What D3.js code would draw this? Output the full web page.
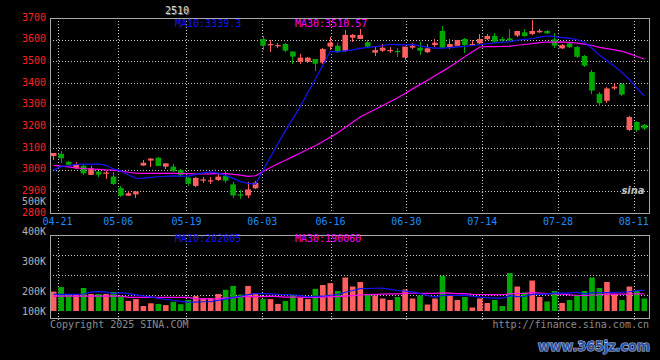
<!DOCTYPE html>
<html>
<head>
<meta charset="utf-8">
<script src="https://cdn.jsdelivr.net/npm/d3@7"></script>
<style>
body { margin: 0; background: #000; }
svg { display: block; font-family: "DejaVu Sans Mono", monospace; }
</style>
</head>
<body>
<svg id="chart" width="660" height="360"></svg>
<script>
// contract 2510, daily K-line 04-18 .. 08-13
var dates = ["04-18","04-21","04-22","04-23","04-24","04-25","04-28","04-29","04-30","05-06",
  "05-07","05-08","05-09","05-12","05-13","05-14","05-15","05-16","05-19","05-20",
  "05-21","05-22","05-23","05-26","05-27","05-28","05-29","05-30","06-03","06-04",
  "06-05","06-06","06-09","06-10","06-11","06-12","06-13","06-16","06-17","06-18",
  "06-19","06-20","06-23","06-24","06-25","06-26","06-27","06-30","07-01","07-02",
  "07-03","07-04","07-07","07-08","07-09","07-10","07-11","07-14","07-15","07-16",
  "07-17","07-18","07-21","07-22","07-23","07-24","07-25","07-28","07-29","07-30",
  "07-31","08-01","08-04","08-05","08-06","08-07","08-08","08-11","08-12","08-13"];

var opens = [3063,3073,3036,3006,3018,2976,2991,2981,2968,2915,
  2880,2886,3019,3042,3055,3014,3014,2999,2963,2925,
  2949,2945,2952,2971,2932,2886,2881,2914,3603,3574,
  3571,3580,3545,3498,3498,3511,3494,3568,3572,3548,
  3609,3603,3588,3540,3549,3548,3548,3517,3563,3563,
  3542,3575,3640,3565,3572,3603,3575,3583,3602,3617,
  3603,3606,3619,3634,3626,3634,3640,3601,3560,3583,
  3566,3525,3451,3350,3318,3375,3395,3183,3220,3207];
var highs = [3079,3086,3040,3034,3028,3017,2996,2992,2991,2925,
  2902,2903,3045,3055,3058,3033,3026,3001,2966,2964,
  2968,2965,2983,2995,2945,2906,2945,2946,3617,3599,
  3586,3583,3549,3534,3522,3513,3562,3614,3583,3645,
  3626,3648,3599,3568,3580,3568,3560,3568,3583,3591,
  3580,3602,3663,3602,3600,3606,3599,3626,3626,3629,
  3611,3649,3641,3649,3691,3649,3643,3629,3580,3586,
  3570,3529,3460,3360,3380,3398,3400,3248,3226,3212];
var lows = [3045,3029,3020,3003,2977,2974,2965,2957,2927,2874,
  2877,2870,3017,3014,3015,3003,2988,2968,2926,2920,
  2937,2934,2950,2937,2871,2865,2868,2909,3552,3545,
  3560,3545,3488,3488,3494,3457,3490,3552,3537,3545,
  3591,3603,3560,3525,3545,3537,3522,3506,3555,3529,
  3537,3565,3560,3555,3570,3537,3574,3580,3599,3586,
  3591,3594,3614,3611,3622,3629,3626,3560,3558,3560,
  3514,3474,3350,3296,3310,3368,3340,3178,3176,3185];
var closes = [3077,3052,3023,3023,2983,3006,2977,2987,2934,2880,
  2891,2899,3032,3051,3017,3029,2993,2976,2935,2962,
  2955,2951,2968,2949,2881,2880,2909,2940,3572,3580,
  3575,3549,3522,3517,3517,3489,3557,3586,3545,3622,
  3622,3622,3568,3552,3563,3552,3542,3568,3572,3549,
  3560,3586,3563,3580,3598,3575,3580,3603,3617,3591,
  3596,3596,3640,3617,3640,3641,3629,3572,3575,3565,
  3521,3480,3365,3307,3375,3383,3346,3243,3183,3190];
var volumes = [198000,213000,187000,187000,210000,190000,190000,190000,197000,181000,
  167000,173000,150000,159000,157000,153000,164000,156000,170000,183000,
  176000,176000,190000,204000,217000,188000,217000,193000,173000,173000,
  157000,167000,186000,177000,173000,207000,220000,226000,200000,245000,
  215000,230000,190000,185000,175000,170000,180000,205000,175000,185000,
  155000,175000,250000,185000,170000,180000,145000,175000,160000,170000,
  150000,260000,215000,195000,235000,180000,165000,200000,160000,170000,
  185000,200000,245000,210000,230000,190000,170000,215000,200000,175000];

// moving averages before enough history is on the chart
var ma10Head = [2998,3015,3018,3024,3026,3026,3026,3020,3003];
var ma30Head = [3020,3016,3013,3008,3005,3003,3001,2999,2998,2993,
  2988,2984,2983,2983,2983,2983,2983,2983,2982,2980,
  2980,2981,2982,2982,2978,2975,2969,2972,2992];
var vma10Head = [189000,189000,189000,189000,190000,197000,198000,196000,191000];
var vma30Head = [183000,183000,183000,183000,183000,183000,183000,183000,183000,183000,
  179000,179000,179000,179000,179000,179000,179000,179000,179000,
  174000,174000,174000,174000,177000,177000,181000,181000,181000,181000];

var priceTicks = [2800,2900,3000,3100,3200,3300,3400,3500,3600,3700];
var volTicks = [100000,200000,300000,400000,500000];
var dateTicks = ["04-21","05-06","05-19","06-03","06-16","06-30","07-14","07-28","08-11"];
var priceLegend = ["MA10:3339.3","MA30:3510.57"];
var volLegend = ["MA10:202005","MA30:190060"];

var W = 660, H = 360;
var left = 50, right = 649;
var mainTop = 18, mainBottom = 213;
var volTop = 235, volBottom = 318, volFloor = 311;
var upColor = "#ff5f5f", downColor = "#00a800";
var gridColor = "#c8c8c8";

var svg = d3.select("#chart");
svg.append("rect").attr("width", W).attr("height", H).attr("fill", "#000");

var idx = d3.range(dates.length);
var x = d3.scaleBand().domain(idx).range([left - 1, right]).padding(0.25);
var gx = d3.scalePoint().domain(idx).range([left, right]);
var y = d3.scaleLinear().domain([2800, 3700]).range([mainBottom, mainTop]);
var yVol = d3.scaleLinear().domain([200000, 500000]).range([291, 201]);

function cx(i) { return x(i) + x.bandwidth() / 2; }
function crisp(v) { return Math.round(v) + 0.5; }

function movingAvg(vals, n, head) {
  return vals.map(function(v, i) {
    if (i < head.length) return head[i];
    return d3.mean(vals.slice(i - n + 1, i + 1));
  });
}
var ma10 = movingAvg(closes, 10, ma10Head);
var ma30 = movingAvg(closes, 30, ma30Head);
var vma10 = movingAvg(volumes, 10, vma10Head);
var vma30 = movingAvg(volumes, 30, vma30Head);

var dateIndex = dateTicks.map(function(d) { return dates.indexOf(d); });

// ---- grids
var grid = svg.append("g")
  .attr("stroke", gridColor).attr("stroke-dasharray", "1,2")
  .attr("shape-rendering", "crispEdges");

grid.selectAll(".hp").data(priceTicks.slice(1, -1)).enter().append("line")
  .attr("x1", left).attr("x2", right)
  .attr("y1", function(d) { return crisp(y(d)); })
  .attr("y2", function(d) { return crisp(y(d)); });

grid.selectAll(".hv").data([1, 2, 3]).enter().append("line")
  .attr("x1", left).attr("x2", right)
  .attr("y1", function(k) { return crisp(volTop + k * 20); })
  .attr("y2", function(k) { return crisp(volTop + k * 20); });

dateIndex.forEach(function(i) {
  grid.append("line").attr("x1", crisp(gx(i))).attr("x2", crisp(gx(i)))
    .attr("y1", mainTop).attr("y2", mainBottom);
  grid.append("line").attr("x1", crisp(gx(i))).attr("x2", crisp(gx(i)))
    .attr("y1", volTop).attr("y2", volBottom + 3);
});

// ---- frames
svg.append("rect").attr("x", left + 0.5).attr("y", mainTop + 0.5)
  .attr("width", right - left).attr("height", mainBottom - mainTop)
  .attr("fill", "none").attr("stroke", "#a8a8a8");
svg.append("rect").attr("x", left + 0.5).attr("y", volTop + 0.5)
  .attr("width", right - left).attr("height", volBottom - volTop)
  .attr("fill", "none").attr("stroke", "#a8a8a8");

// sina logo watermark
svg.append("text").attr("x", 633).attr("y", 194).attr("text-anchor", "middle")
  .attr("font-family", "DejaVu Sans").attr("font-style", "italic").attr("font-weight", "bold")
  .attr("font-size", 10).attr("fill", "#bdbdbd").text("sina");

// ---- candles
var candles = svg.append("g").selectAll("g").data(idx).enter().append("g")
  .attr("fill", function(i) { return closes[i] >= opens[i] ? upColor : downColor; })
  .attr("stroke", function(i) { return closes[i] >= opens[i] ? upColor : downColor; });

candles.append("line")
  .attr("x1", function(i) { return crisp(cx(i) - 0.5); })
  .attr("x2", function(i) { return crisp(cx(i) - 0.5); })
  .attr("y1", function(i) { return y(highs[i]); })
  .attr("y2", function(i) { return y(lows[i]); })
  .attr("stroke-width", 1).attr("shape-rendering", "crispEdges");

candles.append("rect")
  .attr("stroke", "none")
  .attr("x", function(i) { return x(i); })
  .attr("width", x.bandwidth())
  .attr("y", function(i) { return y(Math.max(opens[i], closes[i])); })
  .attr("height", function(i) {
    return Math.max(1.2, Math.abs(y(opens[i]) - y(closes[i])));
  });

// ---- volume bars
svg.append("g").selectAll("rect").data(idx).enter().append("rect")
  .attr("x", function(i) { return x(i); })
  .attr("width", x.bandwidth())
  .attr("y", function(i) { return Math.min(yVol(volumes[i]), volFloor - 1); })
  .attr("height", function(i) { return Math.max(1, volFloor - yVol(volumes[i])); })
  .attr("fill", function(i) { return closes[i] >= opens[i] ? upColor : downColor; });

// ---- moving average lines
function drawLine(vals, scale, color) {
  svg.append("path")
    .datum(idx)
    .attr("fill", "none").attr("stroke", color).attr("stroke-width", 1.2)
    .attr("d", d3.line().x(function(i) { return cx(i); })
      .y(function(i) { return scale(vals[i]); }));
}
drawLine(ma30, y, "#ff00ff");
drawLine(ma10, y, "#1414ff");
drawLine(vma30, yVol, "#ff00ff");
drawLine(vma10, yVol, "#1414ff");

// ---- axis labels
svg.append("g").selectAll("text").data(priceTicks).enter().append("text")
  .attr("x", 46).attr("y", function(d) { return y(d) - 1; }).attr("dy", "0.35em")
  .attr("text-anchor", "end").attr("font-size", 10).attr("fill", "#ff2020")
  .text(function(d) { return d; });

svg.append("g").selectAll("text").data(volTicks).enter().append("text")
  .attr("x", 46).attr("y", function(d) { return Math.min(yVol(d), volFloor); })
  .attr("dy", "0.35em")
  .attr("text-anchor", "end").attr("font-size", 10).attr("fill", "#b4b4b4")
  .text(function(d) { return (d / 1000) + "K"; });

svg.append("g").selectAll("text").data(dateIndex).enter().append("text")
  .attr("x", function(i) { return gx(i); }).attr("y", 225)
  .attr("text-anchor", "middle").attr("font-size", 10).attr("fill", "#1e8cff")
  .text(function(i) { return dates[i]; });

// ---- legends and title
svg.append("text").attr("x", 178).attr("y", 15).attr("text-anchor", "middle")
  .attr("font-size", 10).attr("fill", "#666").text("2510");
svg.append("text").attr("x", 177).attr("y", 14).attr("text-anchor", "middle")
  .attr("font-size", 10).attr("fill", "#d8d8d8").text("2510");

svg.append("text").attr("x", 175).attr("y", 27).attr("font-size", 10)
  .attr("fill", "#1414ff").text(priceLegend[0]);
svg.append("text").attr("x", 295).attr("y", 27).attr("font-size", 10)
  .attr("fill", "#ff00ff").text(priceLegend[1]);
svg.append("text").attr("x", 175).attr("y", 242).attr("font-size", 10)
  .attr("fill", "#1414ff").text(volLegend[0]);
svg.append("text").attr("x", 295).attr("y", 242).attr("font-size", 10)
  .attr("fill", "#ff00ff").text(volLegend[1]);

svg.append("text").attr("x", left).attr("y", 328).attr("font-size", 10)
  .attr("fill", "#8c8c8c").text("Copyright 2025 SINA.COM");
svg.append("text").attr("x", right).attr("y", 328).attr("text-anchor", "end")
  .attr("font-size", 10).attr("fill", "#8c8c8c").text("http://finance.sina.com.cn");

// site watermark
svg.append("text").attr("transform", "translate(538,351) scale(1,1.2)")
  .attr("font-family", "DejaVu Sans").attr("font-weight", "bold").attr("font-size", 12)
  .attr("textLength", 112).attr("lengthAdjust", "spacingAndGlyphs")
  .attr("fill", "#2f52a0").attr("stroke", "#b8c6e6").attr("stroke-width", 1)
  .attr("paint-order", "stroke")
  .text("www.365jz.com");
</script>
</body>
</html>
